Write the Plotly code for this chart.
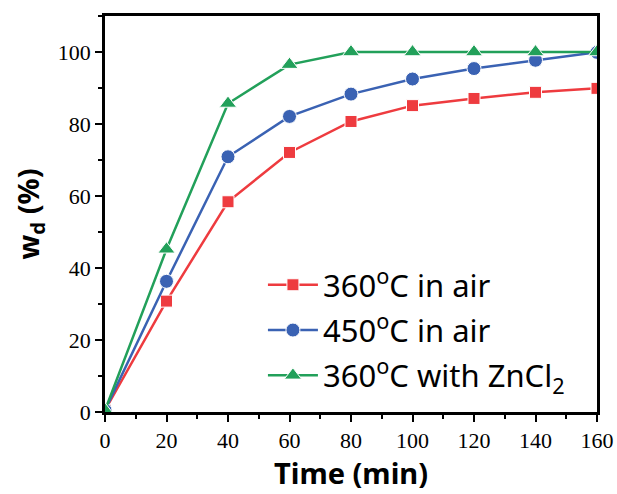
import plotly.graph_objects as go

time_min = [0, 20, 40, 60, 80, 100, 120, 140, 160]
red_360_air = [0.5, 30.8, 58.4, 72.1, 80.7, 85.1, 87.1, 88.8, 89.9]
blue_450_air = [0.5, 36.3, 70.9, 82.1, 88.3, 92.5, 95.4, 97.7, 99.9]
green_360_zncl2 = [0.5, 45.2, 85.7, 96.5, 100, 100, 100, 100, 100]
y_ticks = [0, 20, 40, 60, 80, 100]

names = ["360<sup>o</sup>C in air", "450<sup>o</sup>C in air", "360<sup>o</sup>C with ZnCl<sub>2</sub>"]
colors = ["#EE3B3F", "#3A62B3", "#22A05A"]
symbols = ["square", "circle", "triangle-up"]
sizes = [12, 14, 15]

fig = go.Figure()
for i, (ys, name, c, s, sz) in enumerate(zip([red_360_air, blue_450_air, green_360_zncl2], names, colors, symbols, sizes)):
    fig.add_trace(go.Scatter(
        x=time_min, y=ys, name=name, mode="lines+markers", legendgroup=f"g{i}",
        line=dict(color=c, width=2.5),
        marker=dict(symbol=s, size=sz, color=c, line=dict(color="white", width=1)),
    ))

axis_common = dict(
    showline=True, linecolor="black", linewidth=2.5, mirror=True,
    ticks="outside", ticklen=7, tickwidth=2, tickcolor="black",
    showgrid=False, zeroline=False, automargin=False,
    tickfont=dict(family="Liberation Serif", size=22, color="black"),
    minor=dict(ticks="outside", ticklen=4, tickwidth=2, tickcolor="black", dtick=10),
)

title_font = dict(family="Noto Sans", size=29, color="black", weight="bold")

fig.update_layout(
    width=617, height=494,
    paper_bgcolor="white", plot_bgcolor="white",
    margin=dict(l=105, r=20, t=16, b=82),
    xaxis=dict(range=[0, 160], dtick=20, **axis_common,
               title=dict(text="Time (min)", font=title_font, standoff=4)),
    yaxis=dict(range=[0, 110], tickvals=y_ticks, **axis_common,
               title=dict(text="w<sub>d</sub> (%)", font=title_font, standoff=10)),
    legend=dict(x=0.321, y=0.025, xanchor="left", yanchor="bottom",
                font=dict(family="Noto Sans", size=31, color="black"),
                bgcolor="rgba(0,0,0,0)", itemwidth=50, tracegroupgap=2),
    showlegend=True,
)

fig.write_html("out.html", post_script="document.body.style.margin='0';",
               config={"displayModeBar": False})
